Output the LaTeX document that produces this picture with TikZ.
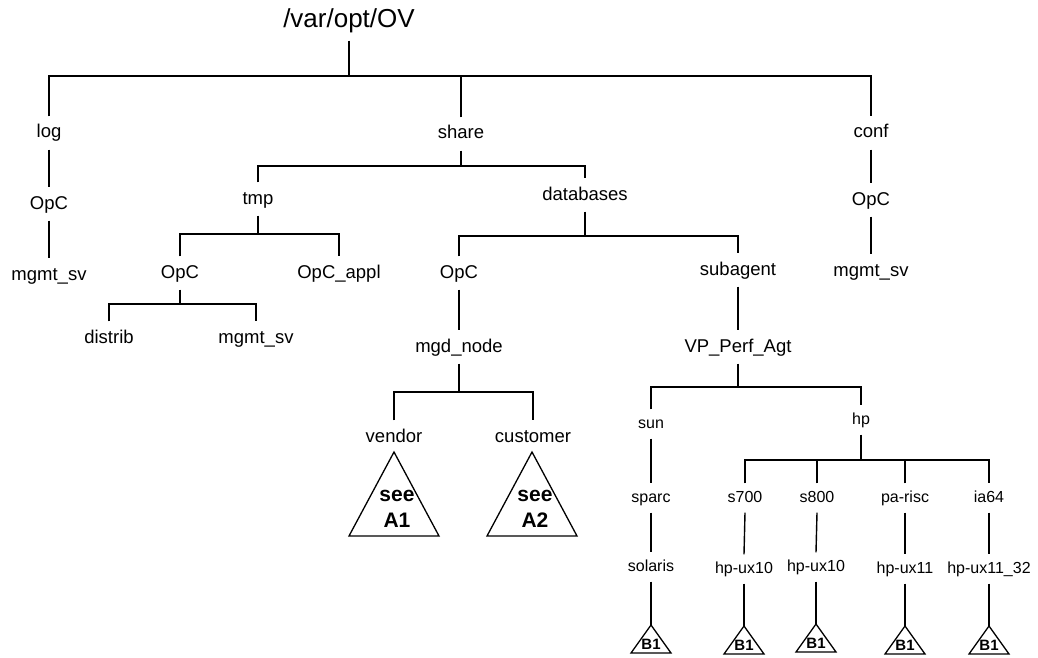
\documentclass[tikz,border=0pt]{standalone}
\usepackage{fontspec}
\setmainfont{Liberation Sans}
\begin{document}
\begin{tikzpicture}[x=1pt,y=-1pt,line width=1.4pt,
  dir/.style={inner sep=0pt,minimum height=32pt,text height=13.5pt,text depth=3.5pt,
    font=\fontsize{18.5}{22}\selectfont},
  sdir/.style={inner sep=0pt,minimum height=28pt,text height=11.5pt,text depth=3pt,
    font=\fontsize{16}{19}\selectfont},
  rootdir/.style={inner sep=0pt,minimum height=38pt,text height=19pt,text depth=5pt,
    font=\fontsize{26}{30}\selectfont},
  seelabel/.style={inner sep=0pt,align=center,font=\fontsize{21}{26}\selectfont\bfseries},
  blabel/.style={inner sep=0pt,font=\fontsize{15}{17}\selectfont\bfseries},
  tri/.style={line width=1.3pt,line join=miter}]
\useasboundingbox (0,0) rectangle (1038,658);

% ---- directory names ----
\node[rootdir] (root) at (349,21) {/var/opt/OV};

\node[dir] (log)    at (49,133) {log};
\node[dir] (logOpC) at (49,204) {OpC};
\node[dir] (logMg)  at (49,275) {mgmt\_sv};

\node[dir] (share)     at (461,134) {share};
\node[dir] (tmp)       at (258,199) {tmp};
\node[dir] (tmpOpC)    at (180,273) {OpC};
\node[dir] (opcAppl)   at (339,273) {OpC\_appl};
\node[dir] (distrib)   at (109,338) {distrib};
\node[dir] (tmpMg)     at (256,338) {mgmt\_sv};
\node[dir] (databases) at (585,195) {databases};
\node[dir] (dbOpC)     at (459,273) {OpC};
\node[dir] (mgdNode)   at (459,347) {mgd\_node};
\node[dir] (vendor)    at (394,437) {vendor};
\node[dir] (customer)  at (533,437) {customer};
\node[dir] (subagent)  at (738,270) {subagent};
\node[dir] (vpPerf)    at (738,347) {VP\_Perf\_Agt};

\node[sdir] (sun)     at (651,424) {sun};
\node[sdir] (sparc)   at (651,498) {sparc};
\node[sdir] (solaris) at (651,567) {solaris};
\node[sdir] (hp)      at (861,420) {hp};
\node[sdir] (s700)    at (745,498) {s700};
\node[sdir] (s800)    at (817,498) {s800};
\node[sdir] (parisc)  at (905,498) {pa-risc};
\node[sdir] (ia64)    at (989,498) {ia64};
\node[sdir] (hpuxA)   at (744,569) {hp-ux10};
\node[sdir] (hpuxB)   at (816,567) {hp-ux10};
\node[sdir] (hpuxC)   at (905,569) {hp-ux11};
\node[sdir] (hpuxD)   at (989,569) {hp-ux11\_32};

\node[dir] (conf)    at (871,133) {conf};
\node[dir] (confOpC) at (871,200) {OpC};
\node[dir] (confMg)  at (871,271) {mgmt\_sv};

% ---- levels of the branching bars ----
\coordinate (rootBar)  at (349,76);
\coordinate (shareBar) at (461,166);
\coordinate (tmpBar)   at (258,234);
\coordinate (opcBar)   at (180,304);
\coordinate (dbBar)    at (585,236);
\coordinate (mgdBar)   at (459,392);
\coordinate (vpBar)    at (738,387);
\coordinate (hpBar)    at (861,460);

% ---- branching connectors ----
\draw (root.south) -- (rootBar);
\draw (log.north) |- (conf.north |- rootBar) -- (conf.north);
\draw (share.north) -- (share.north |- rootBar);

\draw (share.south) -- (shareBar);
\draw (tmp.north) |- (databases.north |- shareBar) -- (databases.north);

\draw (tmp.south) -- (tmpBar);
\draw (tmpOpC.north) |- (opcAppl.north |- tmpBar) -- (opcAppl.north);

\draw (tmpOpC.south) -- (opcBar);
\draw (distrib.north) |- (tmpMg.north |- opcBar) -- (tmpMg.north);

\draw (databases.south) -- (dbBar);
\draw (dbOpC.north) |- (subagent.north |- dbBar) -- (subagent.north);

\draw (mgdNode.south) -- (mgdBar);
\draw (vendor.north) |- (customer.north |- mgdBar) -- (customer.north);

\draw (vpPerf.south) -- (vpBar);
\draw (sun.north) |- (hp.north |- vpBar) -- (hp.north);

\draw (hp.south) -- (hpBar);
\draw (s700.north) |- (ia64.north |- hpBar) -- (ia64.north);
\draw (s800.north) -- (s800.north |- hpBar);
\draw (parisc.north) -- (parisc.north |- hpBar);

% ---- single-child connectors ----
\draw (log.south) -- (logOpC.north);
\draw (logOpC.south) -- (logMg.north);
\draw (conf.south) -- (confOpC.north);
\draw (confOpC.south) -- (confMg.north);
\draw (dbOpC.south) -- (mgdNode.north);
\draw (subagent.south) -- (vpPerf.north);
\draw (sun.south) -- (sparc.north);
\draw (sparc.south) -- (solaris.north);
\draw (s700.south) -- (hpuxA.north);
\draw (s800.south) -- (hpuxB.north);
\draw (parisc.south) -- (hpuxC.north);
\draw (ia64.south) -- (hpuxD.north);

% ---- large reference triangles ----
\coordinate (vendorTri) at (394,452);
\draw[tri] (vendorTri) -- ++(-45,84) -- ++(90,0) -- cycle;
\node[seelabel] (seeA1) at (397,509) {see\\A1};
\coordinate (customerTri) at (532,452);
\draw[tri] (customerTri) -- ++(-45,84) -- ++(90,0) -- cycle;
\node[seelabel] (seeA2) at (535,509) {see\\A2};

% ---- small B1 triangles ----
\coordinate (triSol) at (651,625);
\coordinate (triA) at (744,626);
\coordinate (triB) at (816,624);
\coordinate (triC) at (905,626);
\coordinate (triD) at (989,626);
\foreach \t in {triSol,triA,triB,triC,triD}{
  \draw[tri] (\t) -- ++(-20,28) -- ++(40,0) -- cycle;
  \node[blabel] at ([yshift=-19pt]\t) {B1};
}
\draw (solaris.south) -- (triSol);
\draw (hpuxA.south) -- (triA);
\draw (hpuxB.south) -- (triB);
\draw (hpuxC.south) -- (triC);
\draw (hpuxD.south) -- (triD);
\end{tikzpicture}
\end{document}
